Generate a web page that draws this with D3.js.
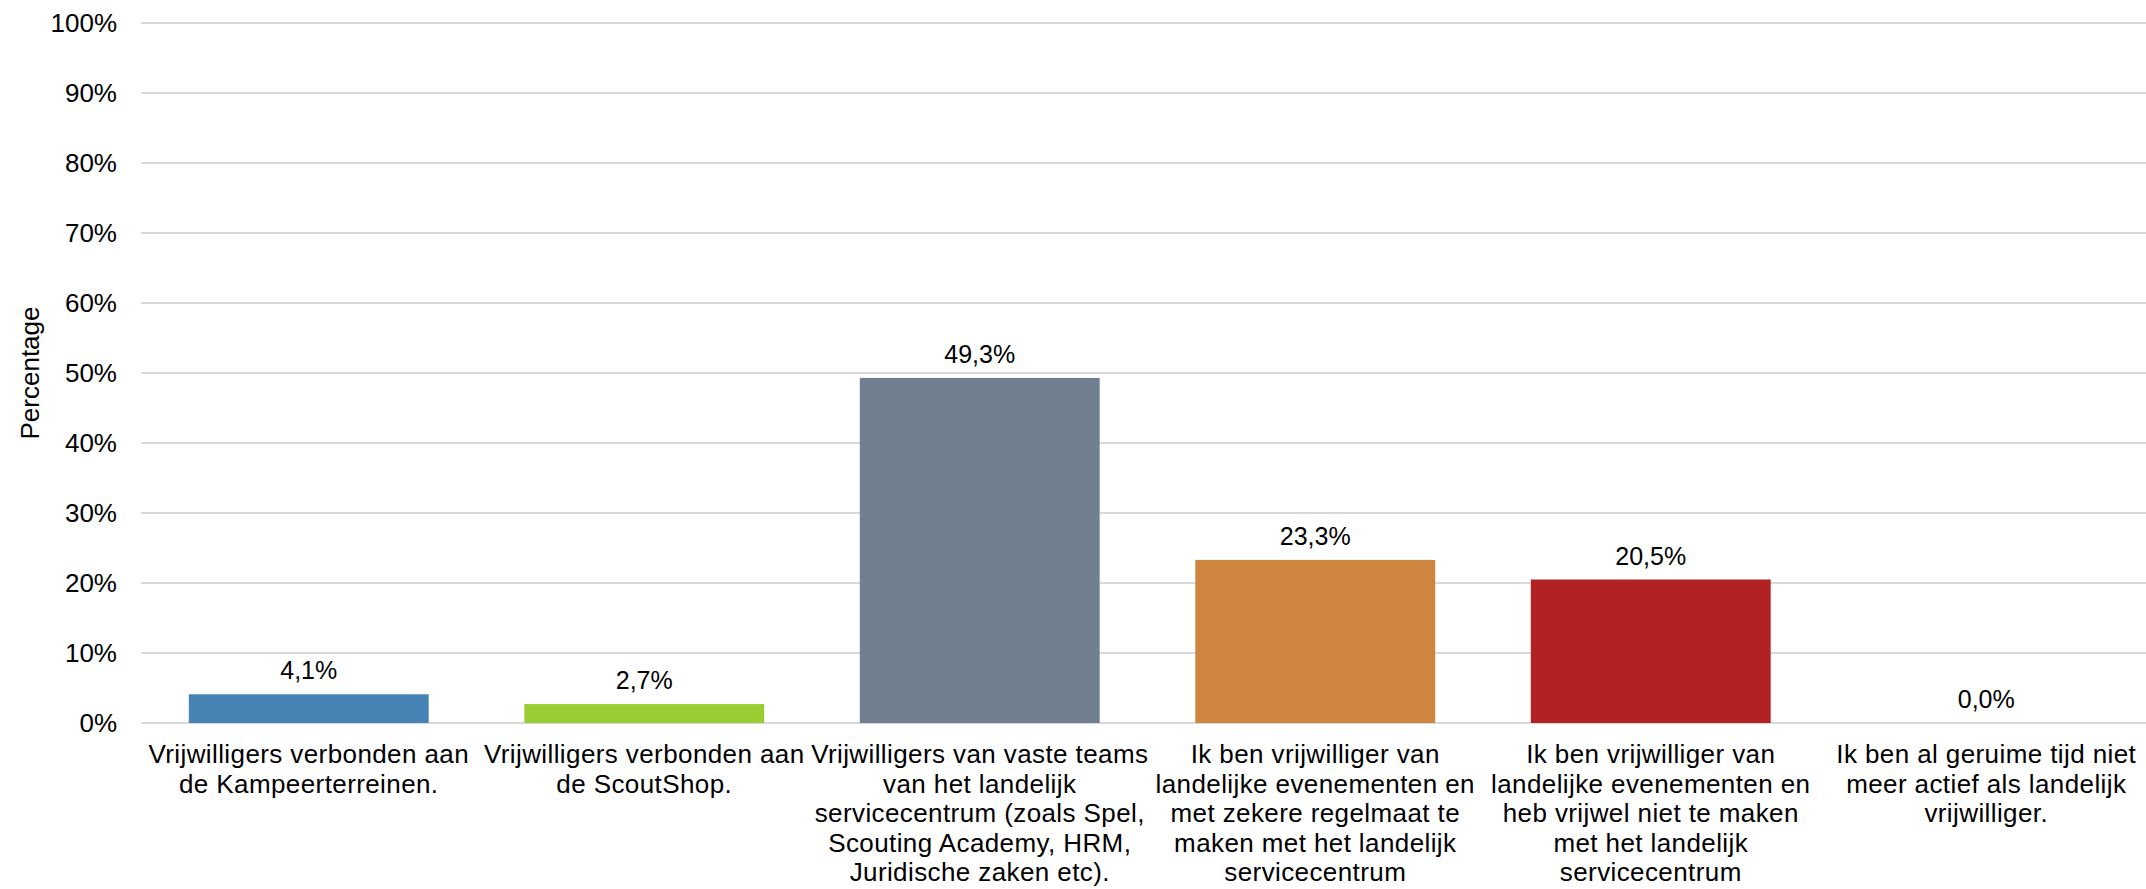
<!DOCTYPE html>
<html>
<head>
<meta charset="utf-8">
<script src="https://cdn.jsdelivr.net/npm/d3@7"></script>
<style>
  html, body { margin: 0; padding: 0; background: #fff; }
  svg { display: block; font-family: "Liberation Sans", Arial, sans-serif; }
</style>
</head>
<body>
<svg id="chart" width="2146" height="889"></svg>
<script>
const categories = [
  "Vrijwilligers verbonden aan\nde Kampeerterreinen.",
  "Vrijwilligers verbonden aan\nde ScoutShop.",
  "Vrijwilligers van vaste teams\nvan het landelijk\nservicecentrum (zoals Spel,\nScouting Academy, HRM,\nJuridische zaken etc).",
  "Ik ben vrijwilliger van\nlandelijke evenementen en\nmet zekere regelmaat te\nmaken met het landelijk\nservicecentrum",
  "Ik ben vrijwilliger van\nlandelijke evenementen en\nheb vrijwel niet te maken\nmet het landelijk\nservicecentrum",
  "Ik ben al geruime tijd niet\nmeer actief als landelijk\nvrijwilliger."
];
const values = [4.1, 2.7, 49.3, 23.3, 20.5, 0.0];
const colors = ["#4682B4", "#9ACD32", "#708090", "#CD853F", "#B22222", "#00008B"];
const yTicks = [0, 10, 20, 30, 40, 50, 60, 70, 80, 90, 100];
const yTitle = "Percentage";

(function () {
  const svg = d3.select("#chart");
  const mLeft = 141, mRight = 2154, mTop = 23, mBottom = 723;

  const x = d3.scaleBand().domain(d3.range(categories.length)).range([mLeft, mRight])
    .paddingInner(0.285).paddingOuter(0.1425);
  const y = d3.scaleLinear().domain([0, 100]).range([mBottom, mTop]);

  // gridlines
  svg.append("g").selectAll("line").data(yTicks).join("line")
    .attr("x1", mLeft).attr("x2", 2146)
    .attr("y1", d => y(d)).attr("y2", d => y(d))
    .attr("stroke", "#d9d9d9").attr("stroke-width", 2);

  // y axis labels
  const yAxis = d3.axisLeft(y).tickValues(yTicks).tickFormat(d => d + "%").tickSize(0).tickPadding(24);
  const yg = svg.append("g").attr("transform", `translate(${mLeft},0)`).call(yAxis);
  yg.select(".domain").remove();
  yg.selectAll("text").attr("font-size", 26).attr("fill", "#000")
    .attr("font-family", '"Liberation Sans", Arial, sans-serif');

  // y title
  svg.append("text")
    .attr("transform", `translate(30,${(mTop + mBottom) / 2}) rotate(-90)`)
    .attr("text-anchor", "middle").attr("dominant-baseline", "central")
    .attr("font-size", 26).attr("fill", "#000").text(yTitle);

  // bars
  svg.append("g").selectAll("rect").data(values).join("rect")
    .attr("x", (d, i) => x(i)).attr("width", x.bandwidth())
    .attr("y", d => y(d)).attr("height", d => y(0) - y(d))
    .attr("fill", (d, i) => colors[i]);

  // data labels
  svg.append("g").selectAll("text").data(values).join("text")
    .attr("x", (d, i) => x(i) + x.bandwidth() / 2)
    .attr("y", d => y(d) - 15)
    .attr("text-anchor", "middle").attr("font-size", 25).attr("fill", "#000")
    .text(d => d.toFixed(1).replace(".", ",") + "%");

  // category labels
  const cg = svg.append("g").selectAll("text").data(categories).join("text")
    .attr("x", (d, i) => x(i) + x.bandwidth() / 2)
    .attr("y", mBottom + 40)
    .attr("text-anchor", "middle").attr("font-size", 26).attr("letter-spacing", 0.4)
    .attr("fill", "#000");
  cg.each(function (d, i) {
    const t = d3.select(this);
    d.split("\n").forEach((line, j) => {
      t.append("tspan").attr("x", x(i) + x.bandwidth() / 2).attr("dy", j === 0 ? 0 : 29.5).text(line);
    });
  });
})();
</script>
</body>
</html>
